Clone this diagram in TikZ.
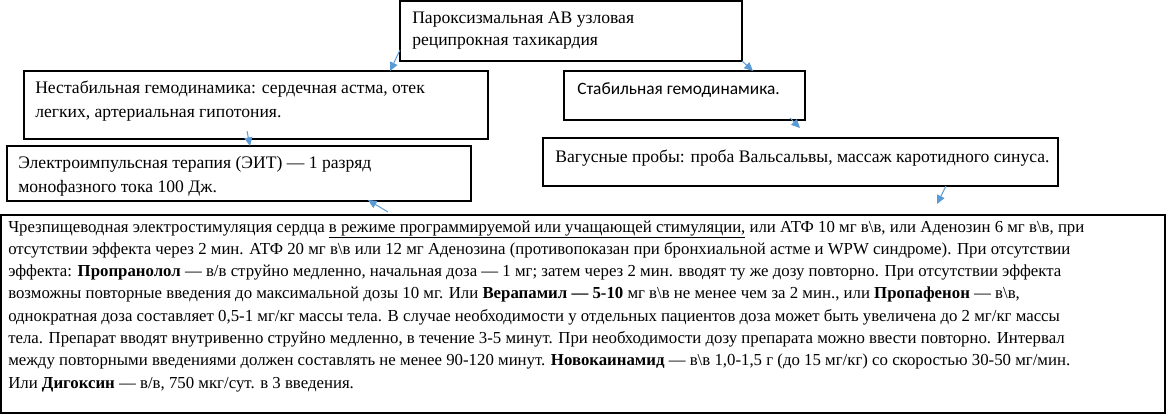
\documentclass[tikz,border=0pt]{standalone}
\usepackage{fontspec}
\setmainfont{Liberation Serif}
\newfontfamily\calib{Carlito}
\usetikzlibrary{arrows.meta,calc}
\definecolor{arrblue}{HTML}{5B9BD5}
\newcommand{\bs}{\textbackslash}
\begin{document}
\begin{tikzpicture}[x=0.75pt,y=-0.75pt,
 box/.style={draw=black,line width=0.9pt,anchor=north west,inner sep=0pt,outer sep=0pt},
 txt/.style={anchor=base west,inner sep=0pt,font=\fontsize{13.2pt}{15pt}\selectfont},
 big/.style={anchor=base west,inner sep=0pt,font=\fontsize{12.6pt}{15pt}\selectfont},
 arr/.style={draw=arrblue,line width=0.75pt,-{Triangle[length=6.5pt,width=6pt]}}]
\useasboundingbox (0,0) rectangle (1167,414);
% boxes
\node[box,minimum width=256.5pt,minimum height=45pt] (b1) at (400,1) {};
\node[box,minimum width=348pt,minimum height=51pt] (b2) at (24,71) {};
\node[box,minimum width=180.75pt,minimum height=36.75pt] (b3) at (564,71) {};
\node[box,minimum width=348pt,minimum height=41.25pt] (b4) at (7,146) {};
\node[box,minimum width=386.25pt,minimum height=36pt] (b5) at (543,138) {};
\node[box,minimum width=873pt,minimum height=148.5pt] (b6) at (1,215) {};
% texts
\node[txt] (t1a) at ($(b1.north west)+(12,22)$) {Пароксизмальная АВ узловая};
\node[txt] (t1b) at ($(b1.north west)+(12,44)$) {реципрокная тахикардия};
\node[txt] (t2a) at ($(b2.north west)+(11,22)$) {Нестабильная гемодинамика: сердечная астма, отек};
\node[txt] (t2b) at ($(b2.north west)+(11,46)$) {легких, артериальная гипотония.};
\node[txt,font=\calib\fontsize{13pt}{15pt}\selectfont] (t3) at ($(b3.north west)+(13,23)$) {Стабильная гемодинамика.};
\node[txt] (t4a) at ($(b4.north west)+(11,22)$) {Электроимпульсная терапия (ЭИТ) — 1 разряд};
\node[txt] (t4b) at ($(b4.north west)+(11,46)$) {монофазного тока 100 Дж.};
\node[txt] (t5) at ($(b5.north west)+(12,24)$) {Вагусные пробы: проба Вальсальвы, массаж каротидного синуса.};
\node[big] (t6a) at ($(b6.north west)+(7,17)$) {Чрезпищеводная электростимуляция сердца \underline{в режиме программируемой или учащающей стимуляции,} или АТФ 10 мг в\bs в, или Аденозин 6 мг в\bs в, при};
\node[big] (t6b) at ($(b6.north west)+(7,39.3)$) {отсутствии эффекта через 2 мин. АТФ 20 мг в\bs в или 12 мг Аденозина (противопоказан при бронхиальной астме и WPW синдроме). При отсутствии};
\node[big] (t6c) at ($(b6.north west)+(7,61.6)$) {эффекта: \textbf{Пропранолол} — в/в струйно медленно, начальная доза — 1 мг; затем через 2 мин. вводят ту же дозу повторно. При отсутствии эффекта};
\node[big] (t6d) at ($(b6.north west)+(7,83.9)$) {возможны повторные введения до максимальной дозы 10 мг. Или \textbf{Верапамил — 5-10} мг в\bs в не менее чем за 2 мин., или \textbf{Пропафенон} — в\bs в,};
\node[big] (t6e) at ($(b6.north west)+(7,106.2)$) {однократная доза составляет 0,5-1 мг/кг массы тела. В случае необходимости у отдельных пациентов доза может быть увеличена до 2 мг/кг массы};
\node[big] (t6f) at ($(b6.north west)+(7,128.5)$) {тела. Препарат вводят внутривенно струйно медленно, в течение 3-5 минут. При необходимости дозу препарата можно ввести повторно. Интервал};
\node[big] (t6g) at ($(b6.north west)+(7,150.8)$) {между повторными введениями должен составлять не менее 90-120 минут. \textbf{Новокаинамид} — в\bs в 1,0-1,5 г (до 15 мг/кг) со скоростью 30-50 мг/мин.};
\node[big] (t6h) at ($(b6.north west)+(7,173.1)$) {Или \textbf{Дигоксин} — в/в, 750 мкг/сут. в 3 введения.};
% arrows
\draw[arr] ($(b1.south west)+(0,-11)$) -- ($(b2.north west)+(366,0)$);
\draw[arr] (b1.south east) -- ($(b3.north west)+(189,0)$);
\draw[arr] ($(b2.south west)+(223,-8)$) -- ($(b4.north west)+(243,0)$);
\draw[arr] ($(b3.south east)+(-15,-2)$) -- ($(b5.north west)+(257,-10)$);
\draw[arr] ($(b5.south west)+(403,0)$) -- ($(b6.north west)+(936,-11)$);
\draw[arr] ($(b6.north west)+(387,-3)$) -- ($(b4.south west)+(361,-1)$);
\end{tikzpicture}
\end{document}
